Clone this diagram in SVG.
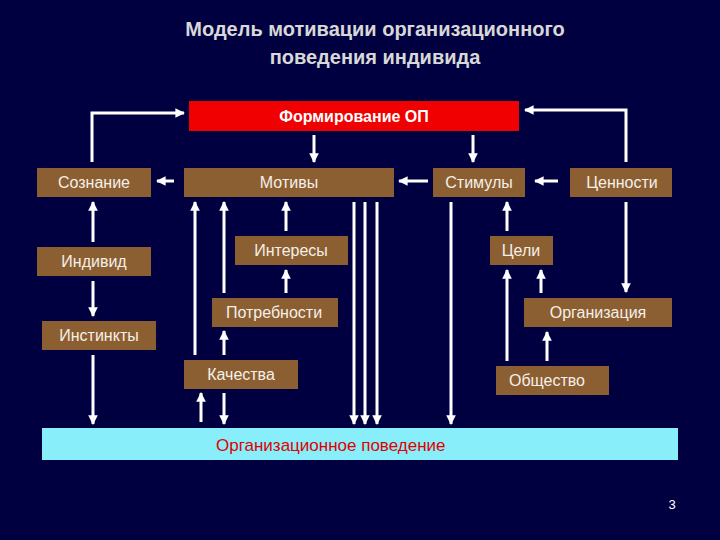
<svg xmlns="http://www.w3.org/2000/svg" width="720" height="540" viewBox="0 0 720 540">
<style>
.b{fill:#8c5f33}
.t{font-family:"Liberation Sans",Arial,sans-serif;font-size:16px;fill:#f4f0e8;text-anchor:middle}
.c line,.c path{stroke:#fff;stroke-width:3;fill:none;marker-end:url(#a)}
</style>
<defs><marker id="a" viewBox="0 0 10 10" refX="9" refY="5" markerWidth="3.2" markerHeight="3.2" orient="auto" markerUnits="strokeWidth"><path d="M0,0L10,5L0,10z" fill="#fff"/></marker></defs>
<rect width="720" height="540" fill="#000040"/>
<g font-family="Liberation Sans,Arial,sans-serif" font-size="20" font-weight="bold" fill="#d8d8d8" text-anchor="middle"><text x="375" y="36">Модель мотивации организационного</text><text x="375" y="64">поведения индивида</text></g>
<g id="form"><rect x="189" y="101" width="330" height="30" fill="#f00000"/><text class="t" x="354" y="122" style="font-weight:bold;fill:#fff">Формирование ОП</text></g>
<g id="soz"><rect class="b" x="37" y="168" width="114" height="29"/><text class="t" x="94" y="188">Сознание</text></g>
<g id="mot"><rect class="b" x="184" y="168" width="210" height="29"/><text class="t" x="289" y="188">Мотивы</text></g>
<g id="stim"><rect class="b" x="433" y="168" width="92" height="29"/><text class="t" x="479" y="188">Стимулы</text></g>
<g id="cen"><rect class="b" x="570" y="168" width="102" height="29"/><text class="t" x="622" y="188">Ценности</text></g>
<g id="ind"><rect class="b" x="37" y="247" width="114" height="29"/><text class="t" x="94" y="267">Индивид</text></g>
<g id="int"><rect class="b" x="235" y="236" width="113" height="29"/><text class="t" x="291" y="256">Интересы</text></g>
<g id="celi"><rect class="b" x="490" y="236" width="63" height="29"/><text class="t" x="521" y="256">Цели</text></g>
<g id="potr"><rect class="b" x="212" y="298" width="126" height="29"/><text class="t" x="274" y="318">Потребности</text></g>
<g id="org"><rect class="b" x="524" y="298" width="148" height="29"/><text class="t" x="598" y="318">Организация</text></g>
<g id="inst"><rect class="b" x="42" y="321" width="114" height="29"/><text class="t" x="99" y="341">Инстинкты</text></g>
<g id="kach"><rect class="b" x="184" y="360" width="114" height="29"/><text class="t" x="241" y="380">Качества</text></g>
<g id="obsh"><rect class="b" x="496" y="366" width="113" height="29"/><text class="t" x="547" y="386">Общество</text></g>
<g id="op"><rect x="42" y="428" width="636" height="32" fill="#88eefa"/><text x="216" y="451" font-family="Liberation Sans,Arial,sans-serif" font-size="17" fill="#e00000">Организационное поведение</text></g>
<text x="672" y="509" font-family="Liberation Sans,Arial,sans-serif" font-size="13" fill="#fff" text-anchor="middle">3</text>
<g class="c">
<path d="M92,162V113H184"/>
<path d="M626,162V110H525"/>
<line x1="314" y1="135" x2="314" y2="162"/>
<line x1="473" y1="135" x2="473" y2="162"/>
<line x1="174" y1="181" x2="157" y2="181"/>
<line x1="428" y1="181" x2="399" y2="181"/>
<line x1="558" y1="181" x2="535" y2="181"/>
<line x1="93" y1="242" x2="93" y2="202"/>
<line x1="93" y1="281" x2="93" y2="316"/>
<line x1="93" y1="355" x2="93" y2="424"/>
<line x1="286" y1="231" x2="286" y2="202"/>
<line x1="286" y1="293" x2="286" y2="270"/>
<line x1="224" y1="355" x2="224" y2="331"/>
<line x1="195" y1="355" x2="195" y2="202"/>
<line x1="224" y1="293" x2="224" y2="202"/>
<line x1="201" y1="422" x2="201" y2="393"/>
<line x1="224" y1="393" x2="224" y2="424"/>
<line x1="354" y1="202" x2="354" y2="424"/>
<line x1="365" y1="202" x2="365" y2="424"/>
<line x1="377" y1="202" x2="377" y2="424"/>
<line x1="451" y1="202" x2="451" y2="424"/>
<line x1="507" y1="231" x2="507" y2="202"/>
<line x1="507" y1="361" x2="507" y2="270"/>
<line x1="541" y1="293" x2="541" y2="270"/>
<line x1="547" y1="361" x2="547" y2="332"/>
<line x1="626" y1="202" x2="626" y2="292"/>
</g>
</svg>
